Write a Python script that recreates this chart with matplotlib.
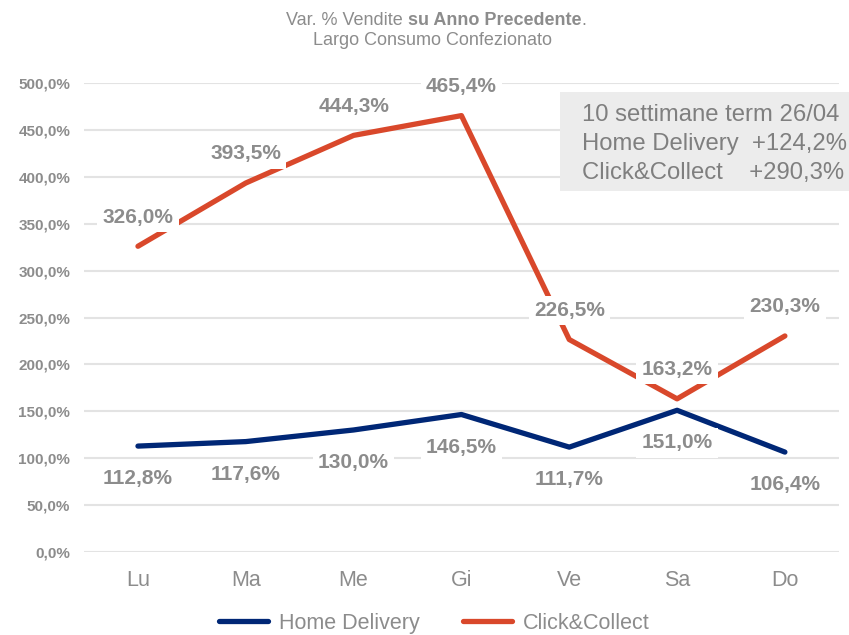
import numpy as np
import matplotlib.pyplot as plt
from matplotlib.ticker import FuncFormatter

plt.rcParams['font.family'] = ['Liberation Sans', 'DejaVu Sans']

giorni = ['Lu', 'Ma', 'Me', 'Gi', 'Ve', 'Sa', 'Do']
home_delivery = [112.8, 117.6, 130.0, 146.5, 111.7, 151.0, 106.4]
click_collect = [326.0, 393.5, 444.3, 465.4, 226.5, 163.2, 230.3]
totali = {'Home Delivery': 124.2, 'Click&Collect': 290.3}

GRAY = '#8c8c8c'
NAVY = '#002776'
ORANGE = '#d9482b'


def fmt_pct(v):
    return f'{v:.1f}%'.replace('.', ',')


fig = plt.figure(figsize=(8.49, 6.35), dpi=100)
ax = fig.add_axes([0.099, 0.131, 0.889, 0.738])

x = np.arange(len(giorni))
ax.plot(x, home_delivery, color=NAVY, lw=3.8, solid_capstyle='round', label='Home Delivery', zorder=3)
ax.plot(x, click_collect, color=ORANGE, lw=3.8, solid_capstyle='round', label='Click&Collect', zorder=3)

# etichette dati con sfondo bianco
for xi, v in zip(x, click_collect):
    ax.annotate(fmt_pct(v), (xi, v), xytext=(0, 21), textcoords='offset points',
                ha='center', va='center', fontsize=15, fontweight='bold', color=GRAY,
                bbox=dict(boxstyle='square,pad=0.25', fc='white', ec='none'), zorder=4)
for xi, v in zip(x, home_delivery):
    ax.annotate(fmt_pct(v), (xi, v), xytext=(0, -23.5), textcoords='offset points',
                ha='center', va='center', fontsize=15, fontweight='bold', color=GRAY,
                bbox=dict(boxstyle='square,pad=0.25', fc='white', ec='none'), zorder=4)

ax.set_xlim(-0.5, len(giorni) - 0.5)
ax.set_ylim(0, 500)
ax.set_yticks(np.arange(0, 501, 50))
ax.yaxis.set_major_formatter(FuncFormatter(lambda v, p: fmt_pct(v)))
ax.set_xticks(x)
ax.set_xticklabels(giorni)
ax.tick_params(axis='y', length=0, pad=10, labelsize=11, labelcolor=GRAY)
ax.tick_params(axis='x', length=0, pad=13, labelsize=15.5, labelcolor=GRAY)
for lab in ax.get_yticklabels():
    lab.set_fontweight('bold')
ax.grid(axis='y', color='#e3e3e3', lw=1.5)
ax.set_axisbelow(True)
for s in ax.spines.values():
    s.set_visible(False)

# titolo con parte in grassetto
t2 = fig.text(0.583, 0.968, 'su Anno Precedente', ha='center', va='center',
              fontsize=13, fontweight='bold', color=GRAY)
ax.annotate('Var. % Vendite ', xy=(0, 0), xycoords=t2, ha='right', va='bottom',
            fontsize=13, color=GRAY, annotation_clip=False)
ax.annotate('.', xy=(1, 0), xycoords=t2, ha='left', va='bottom',
            fontsize=13, color=GRAY, annotation_clip=False)
fig.text(0.509, 0.936, 'Largo Consumo Confezionato', ha='center', va='center',
         fontsize=13, color=GRAY)

# riquadro con i totali
box_txt = '10 settimane term 26/04\n' + \
    f"Home Delivery  +{fmt_pct(totali['Home Delivery'])}\n" + \
    f"Click&Collect    +{fmt_pct(totali['Click&Collect'])}"
fig.patches.append(plt.Rectangle((0.66, 0.70), 0.35, 0.155, transform=fig.transFigure,
                                 fc='#ececec', ec='none', zorder=5))
fig.text(0.686, 0.773, box_txt, ha='left', va='center', fontsize=17.2, color='#7f7f7f',
         linespacing=1.4, zorder=6)

ax.legend(loc='center', bbox_to_anchor=(0.464, -0.153), ncol=2, frameon=False,
          fontsize=15.5, labelcolor=GRAY, handlelength=2.3, columnspacing=2.0,
          handletextpad=0.5)

fig.savefig('out.png', dpi=100)
